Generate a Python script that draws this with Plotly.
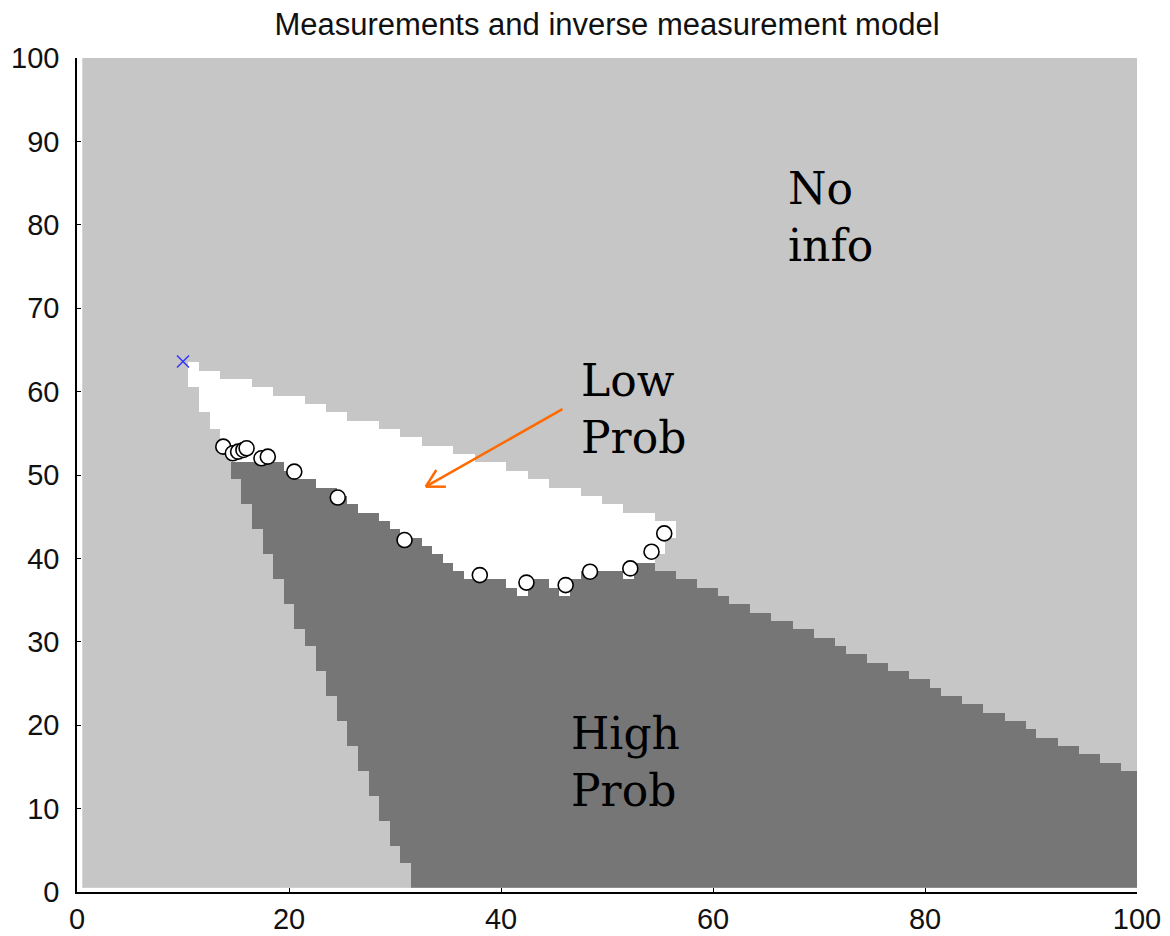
import numpy as np
import plotly.graph_objects as go

TITLE = "Measurements and inverse measurement model"
N_CELLS = 100

# ---- Occupancy grid (cell rows per column) ----
# Free space (white, "Low Prob") : columns 11..56, lowest and highest white row
free_cols = list(range(11, 57))
free_top = [63, 62, 62, 61, 61, 61, 60, 60, 59, 59, 59, 58, 58, 57, 57, 56,
            56, 56, 55, 55, 54, 54, 53, 53, 53, 52, 52, 51, 51, 51, 50, 50,
            49, 49, 48, 48, 48, 47, 47, 46, 46, 45, 45, 45, 44, 44]
free_bottom = [61, 58, 56, 53, 52, 52, 52, 52, 52, 51, 50, 50, 49, 49, 48, 47,
               46, 46, 45, 44, 43, 43, 42, 41, 40, 39, 38, 38, 38, 38, 37, 36,
               38, 38, 37, 36, 38, 39, 39, 39, 39, 38, 40, 40, 41, 43]

# Occupied (dark, "High Prob") : columns 15..100, lowest and highest dark row
occ_cols = list(range(15, 101))
occ_top = [51, 51, 51, 51, 51, 50, 49, 49, 48, 48, 47, 46, 45, 45, 44, 43,
           42, 42, 41, 40, 39, 38, 37, 37, 37, 37, 36, 35, 37, 37, 36, 35,
           37, 38, 38, 38, 38, 37, 39, 39, 38, 38, 37, 37, 36, 36, 35, 34,
           34, 33, 33, 32, 32, 31, 31, 30, 30, 29, 28, 28, 27, 27, 26, 26,
           25, 25, 24, 23, 23, 22, 22, 21, 21, 20, 20, 19, 18, 18, 17, 17,
           16, 16, 15, 15, 14, 14]
occ_bottom = [50, 47, 44, 41, 38, 35, 32, 30, 27, 24, 21, 18, 15, 12, 9, 6,
              4, 1, 1, 1, 1, 1, 1, 1, 1, 1, 1, 1, 1, 1, 1, 1,
              1, 1, 1, 1, 1, 1, 1, 1, 1, 1, 1, 1, 1, 1, 1, 1,
              1, 1, 1, 1, 1, 1, 1, 1, 1, 1, 1, 1, 1, 1, 1, 1,
              1, 1, 1, 1, 1, 1, 1, 1, 1, 1, 1, 1, 1, 1, 1, 1,
              1, 1, 1, 1, 1, 1]

# Measurements (circles) and sensor position (blue x)
meas_x = [13.8, 14.7, 15.2, 15.7, 16.0, 17.4, 18.0, 20.5, 24.6, 30.9,
          38.0, 42.4, 46.1, 48.4, 52.2, 54.2, 55.4]
meas_y = [53.4, 52.6, 52.8, 53.0, 53.2, 52.0, 52.2, 50.4, 47.3, 42.2,
          38.0, 37.1, 36.8, 38.4, 38.8, 40.8, 43.0]
sensor_x = [10.0]
sensor_y = [63.6]

# Cell values: 0 = low prob (white), 1 = no info (gray), 2 = high prob (dark)
z = np.ones((N_CELLS, N_CELLS))
for c, lo, hi in zip(free_cols, free_bottom, free_top):
    z[lo - 1:hi, c - 1] = 0
for c, lo, hi in zip(occ_cols, occ_bottom, occ_top):
    z[lo - 1:hi, c - 1] = 2
cells = np.arange(1, N_CELLS + 1)

fig = go.Figure()
fig.add_trace(go.Heatmap(
    x=cells, y=cells, z=z, zmin=0, zmax=2,
    colorscale=[[0, "#ffffff"], [0.5, "#c6c6c6"], [1, "#767676"]],
    showscale=False, hoverinfo="skip", zsmooth=False))
fig.add_trace(go.Scatter(
    x=meas_x, y=meas_y, mode="markers",
    marker=dict(symbol="circle", size=15, color="white",
                line=dict(color="black", width=1.6)),
    hoverinfo="skip", showlegend=False))
fig.add_trace(go.Scatter(
    x=sensor_x, y=sensor_y, mode="markers",
    marker=dict(symbol="x-thin", size=12, color="#3333ff",
                line=dict(color="#3333ff", width=1.5)),
    hoverinfo="skip", showlegend=False))

# Arrow pointing at the low-probability region
ARROW_TAIL = (45.8, 57.9)
ARROW_TIP = (32.9, 48.6)
ARROW_BARB1 = (33.9, 50.6)
ARROW_BARB2 = (34.8, 48.6)
ORANGE = "#ff6a00"
for (x0, y0) in [ARROW_TAIL, ARROW_BARB1, ARROW_BARB2]:
    fig.add_shape(type="line", xref="x", yref="y", x0=x0, y0=y0,
                  x1=ARROW_TIP[0], y1=ARROW_TIP[1],
                  line=dict(color=ORANGE, width=2.5))

LABEL_FONT = dict(family="DejaVu Serif", size=44, color="black")
labels = [("No<br>info", 66.9, 80.9), ("Low<br>Prob", 47.4, 57.9),
          ("High<br>Prob", 46.4, 15.6)]
for text, lx, ly in labels:
    fig.add_annotation(x=lx, y=ly, xref="x", yref="y", text=text,
                       showarrow=False, xanchor="left", yanchor="middle",
                       align="left", font=LABEL_FONT)

SANS = "Liberation Sans, Arial, sans-serif"
TICK_FONT = dict(family=SANS, size=29, color="#111111")
axis_common = dict(showgrid=False, zeroline=False, showline=True,
                   linecolor="black", linewidth=1.5, ticks="inside",
                   ticklen=4, tickcolor="black", tickfont=TICK_FONT,
                   mirror=False, automargin=False)
fig.update_xaxes(range=[0, 100], tickvals=[0, 20, 40, 60, 80, 100],
                 ticklabelstandoff=0, **axis_common)
fig.update_yaxes(range=[0, 100], tickvals=list(range(0, 101, 10)),
                 ticklabelstandoff=10, **axis_common)

# The page body adds an 8px margin at top/left, so the figure is offset
FIG_W, FIG_H = 1162, 928
fig.update_layout(
    width=FIG_W, height=FIG_H,
    margin=dict(l=69, r=33, t=50, b=44, autoexpand=False),
    paper_bgcolor="white", plot_bgcolor="white",
    title=dict(text=TITLE, x=0.5, xref="paper", xanchor="center",
               y=1 - 16 / FIG_H, yref="container", yanchor="middle",
               font=dict(family=SANS, size=31, color="#111111")),
    showlegend=False)

fig.write_html("out.html")
